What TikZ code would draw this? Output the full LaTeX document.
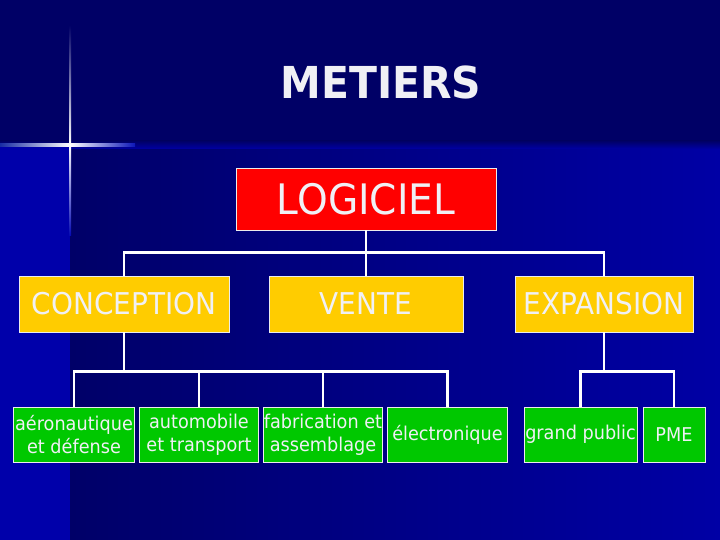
\documentclass[tikz,border=0pt]{standalone}
\usepackage{fontspec}
\setmainfont{DejaVu Sans}[FakeStretch=0.93]
\usepackage{xcolor}
\usetikzlibrary{positioning}

\definecolor{topnavy}{RGB}{0,0,102}
\definecolor{lownavy}{RGB}{0,0,104}
\definecolor{lowblue}{RGB}{0,0,165}
\definecolor{stripblue}{RGB}{0,0,170}
\definecolor{glow}{RGB}{60,110,255}
\definecolor{boxred}{RGB}{255,0,0}
\definecolor{boxgold}{RGB}{255,204,0}
\definecolor{boxgreen}{RGB}{0,200,0}
\definecolor{txt}{RGB}{240,240,245}

\begin{document}
\begin{tikzpicture}[
  x=1pt, y=-1pt,
  box/.style={draw=white!85!gray, line width=0.9pt, align=center, inner sep=0pt,
              text=txt},
  top/.style={box, fill=boxred, minimum width=260pt, minimum height=62pt,
              font=\fontsize{42}{46}\selectfont},
  branch/.style={box, fill=boxgold, minimum height=56pt,
                 font=\fontsize{30}{34}\selectfont},
  leaf/.style={box, fill=boxgreen, minimum height=55pt,
               font=\fontsize{19}{23}\selectfont},
  link/.style={draw=white, line width=2.6pt},
]
\useasboundingbox (0,0) rectangle (720,540);

\fill[topnavy] (0,0) rectangle (720,145);
\fill[stripblue] (0,145) rectangle (70,540);
\shade[left color=lownavy, right color=lowblue] (70,145) rectangle (720,540);
\shade[top color=topnavy, bottom color=lowblue] (0,141) rectangle (720,149);
\fill[stripblue] (0,145) rectangle (70,149);

\shade[left color=glow!40!topnavy, right color=white] (0,144) rectangle (70,146.5);
\shade[left color=white, right color=glow!20!lowblue] (70,144) rectangle (135,146.5);
\shade[top color=topnavy, bottom color=white] (69,25) rectangle (71.2,145);
\shade[top color=white, bottom color=glow!10!stripblue] (69,145) rectangle (71.2,235);

\node[font=\fontsize{44}{50}\selectfont\bfseries, text=txt] (titre) at (381,82) {METIERS};

\node[top] (logiciel) at (366,199) {LOGICIEL};

\node[branch, minimum width=210pt] (conception) at (124,304) {CONCEPTION};
\node[branch, minimum width=194pt] (vente)      at (366,304) {VENTE};
\node[branch, minimum width=178pt] (expansion)  at (604,304) {EXPANSION};

\node[leaf, minimum width=121pt] (aero)   at (74,434.5)  {aéronautique\\et défense};
\node[leaf, minimum width=119pt] (auto)   at (199,434.5) {automobile\\et transport};
\node[leaf, minimum width=119pt] (fab)    at (323,434.5) {fabrication et\\assemblage};
\node[leaf, minimum width=120pt] (elec)   at (447.5,434.5) {électronique};
\node[leaf, minimum width=113pt] (public) at (580.5,434.5) {grand public};
\node[leaf, minimum width=62pt]  (pme)    at (674,434.5) {PME};

\draw[link] (logiciel.south) -- ++(0,22) -| (conception.north);
\draw[link] (logiciel.south) -- ++(0,22) -| (expansion.north);
\draw[link] (logiciel.south) -- (vente.north);

\draw[link] (conception.south) -- ++(0,39) -| (aero.north);
\draw[link] (conception.south) -- ++(0,39) -| (auto.north);
\draw[link] (conception.south) -- ++(0,39) -| (fab.north);
\draw[link] (conception.south) -- ++(0,39) -| (elec.north);

\draw[link] (expansion.south) -- ++(0,39) -| (public.north);
\draw[link] (expansion.south) -- ++(0,39) -| (pme.north);

\end{tikzpicture}
\end{document}
